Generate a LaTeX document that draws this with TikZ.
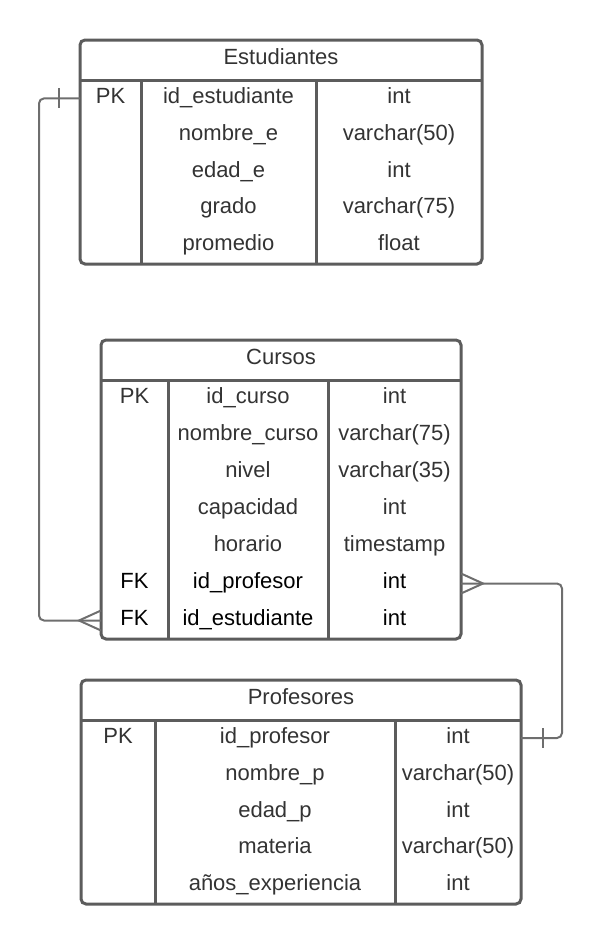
\documentclass[tikz,border=0pt]{standalone}
\usepackage{fontspec}
\setmainfont{Liberation Sans}
\usetikzlibrary{calc}
\definecolor{txt}{HTML}{333333}
\definecolor{ln}{HTML}{5C5C5C}
\definecolor{lk}{HTML}{6E6E6E}
\begin{document}
\begin{tikzpicture}[x=1pt,y=-1pt,
  font=\fontsize{22}{26}\selectfont,
  box/.style={draw=ln, line width=3pt, rounded corners=5pt},
  sep/.style={draw=ln, line width=3pt},
  cell/.style={text=txt, anchor=base, inner sep=0pt},
  fkcell/.style={text=black, anchor=base, inner sep=0pt},
  link/.style={draw=lk, line width=2pt, rounded corners=5pt},
  endmark/.style={draw=lk, line width=2pt}]
\useasboundingbox (0,0) rectangle (603,945);

% ---------------- Estudiantes
\draw[box] (80,40) rectangle (482,264);
\draw[sep] (80,80) -- (482,80);
\draw[sep] (141,80) -- (141,264);
\draw[sep] (316,80) -- (316,264);
\node[cell] (est-title) at (281,64) {Estudiantes};
\foreach \i/\a/\b/\c in {1/PK/id\_estudiante/int,
                         2//nombre\_e/varchar(50),
                         3//edad\_e/int,
                         4//grado/varchar(75),
                         5//promedio/float}{
  \node[cell] (est-\i-a) at (110.5,{80+36.8*(\i-0.5)+5}) {\a};
  \node[cell] (est-\i-b) at (228.5,{80+36.8*(\i-0.5)+5}) {\b};
  \node[cell] (est-\i-c) at (399,{80+36.8*(\i-0.5)+5}) {\c};
}
\coordinate (estpk) at (80,98.4);

% ---------------- Cursos
\draw[box] (101,340) rectangle (461,639);
\draw[sep] (101,380) -- (461,380);
\draw[sep] (168,380) -- (168,639);
\draw[sep] (328,380) -- (328,639);
\node[cell] (cur-title) at (281,364) {Cursos};
\foreach \i/\a/\b/\c in {1/PK/id\_curso/int,
                         2//nombre\_curso/varchar(75),
                         3//nivel/varchar(35),
                         4//capacidad/int,
                         5//horario/timestamp}{
  \node[cell] (cur-\i-a) at (134.5,{380+37*(\i-0.5)+5}) {\a};
  \node[cell] (cur-\i-b) at (248,{380+37*(\i-0.5)+5}) {\b};
  \node[cell] (cur-\i-c) at (394.5,{380+37*(\i-0.5)+5}) {\c};
}
\foreach \i/\a/\b/\c in {6/FK/id\_profesor/int,
                         7/FK/id\_estudiante/int}{
  \node[fkcell] (cur-\i-a) at (134.5,{380+37*(\i-0.5)+5}) {\a};
  \node[fkcell] (cur-\i-b) at (248,{380+37*(\i-0.5)+5}) {\b};
  \node[fkcell] (cur-\i-c) at (394.5,{380+37*(\i-0.5)+5}) {\c};
}
\coordinate (curfk1) at (461,583.5);
\coordinate (curfk2) at (101,620.5);

% ---------------- Profesores
\draw[box] (81,680) rectangle (521,904);
\draw[sep] (81,720) -- (521,720);
\draw[sep] (155,720) -- (155,904);
\draw[sep] (395,720) -- (395,904);
\node[cell] (prof-title) at (301,704) {Profesores};
\foreach \i/\a/\b/\c in {1/PK/id\_profesor/int,
                         2//nombre\_p/varchar(50),
                         3//edad\_p/int,
                         4//materia/varchar(50),
                         5//años\_experiencia/int}{
  \node[cell] (prof-\i-a) at (118,{720+36.8*(\i-0.5)+5}) {\a};
  \node[cell] (prof-\i-b) at (275,{720+36.8*(\i-0.5)+5}) {\b};
  \node[cell] (prof-\i-c) at (458,{720+36.8*(\i-0.5)+5}) {\c};
}
\coordinate (profpk) at (521,738);

% ---------------- Connectors
\draw[link] (estpk) -- ++(-41,0) |- (curfk2);
\draw[endmark] ($(estpk)+(-21,-10)$) -- ($(estpk)+(-21,10)$);
\draw[endmark] ($(curfk2)+(0,-10)$) -- ($(curfk2)+(-22,0)$) -- ($(curfk2)+(0,10)$);

\draw[link] (curfk1) -- ++(101,0) |- (profpk);
\draw[endmark] ($(curfk1)+(0,-10)$) -- ($(curfk1)+(22,0)$) -- ($(curfk1)+(0,10)$);
\draw[endmark] ($(profpk)+(22,-10)$) -- ($(profpk)+(22,10)$);
\end{tikzpicture}
\end{document}
